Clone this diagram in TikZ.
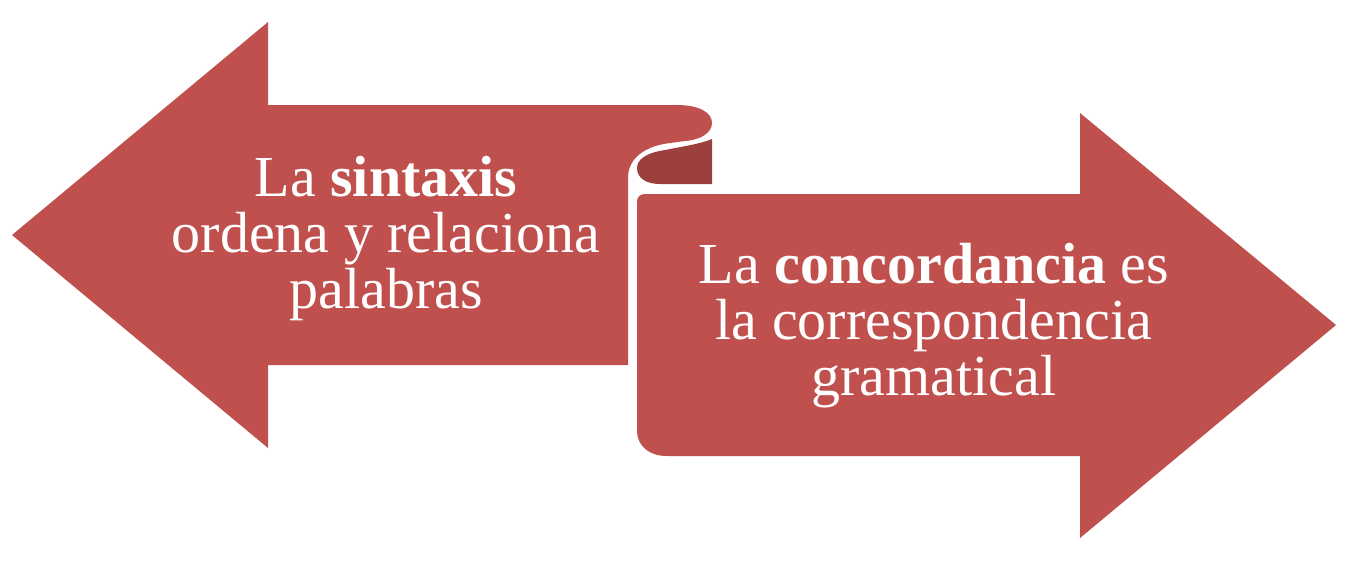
\documentclass[tikz,border=0pt]{standalone}
\usepackage{fontspec}
\setmainfont{Liberation Serif}
\definecolor{ribbon}{HTML}{C0504D}
\definecolor{ribbondark}{HTML}{9C403E}
\begin{document}
\begin{tikzpicture}[x=1pt,y=-1pt,
  band/.style={fill=ribbon,draw=none},
  fold/.style={fill=ribbondark,draw=none},
  label/.style={text=white,align=center,inner sep=0pt,anchor=base,
    font=\fontsize{58}{56}\selectfont}]
\useasboundingbox (0,0) rectangle (1348,560);
% right arrow
\path[band] (645,194) -- (1080,194) -- (1080,113) -- (1336,325) -- (1080,538) -- (1080,456)
  -- (667,456) .. controls (650,456) and (637,447) .. (637,430) -- (637,202)
  .. controls (637,197) and (640,194) .. (645,194) -- cycle;
% fold (back of the curl)
\path[fold] (712,139) .. controls (700,144) and (685,146) .. (665,150)
  .. controls (645,153) and (637,160) .. (637,168)
  .. controls (637,178) and (646,184) .. (660,184) -- (712,184) -- cycle;
% left arrow
\path[band] (12,235) -- (268,22) -- (268,105) -- (677,105)
  .. controls (700,105) and (712,113) .. (712,123)
  .. controls (712,133) and (700,140) .. (685,141) -- (670,143)
  .. controls (645,146) and (628,158) .. (628,178) -- (628,365)
  -- (268,365) -- (268,448) -- cycle;
\node[label] (lefttext) at (386,308) {La \textbf{sintaxis}\\ordena y relaciona\\palabras};
\node[label] (righttext) at (934,395) {La \textbf{concordancia} es\\la correspondencia\\gramatical};
\end{tikzpicture}
\end{document}
